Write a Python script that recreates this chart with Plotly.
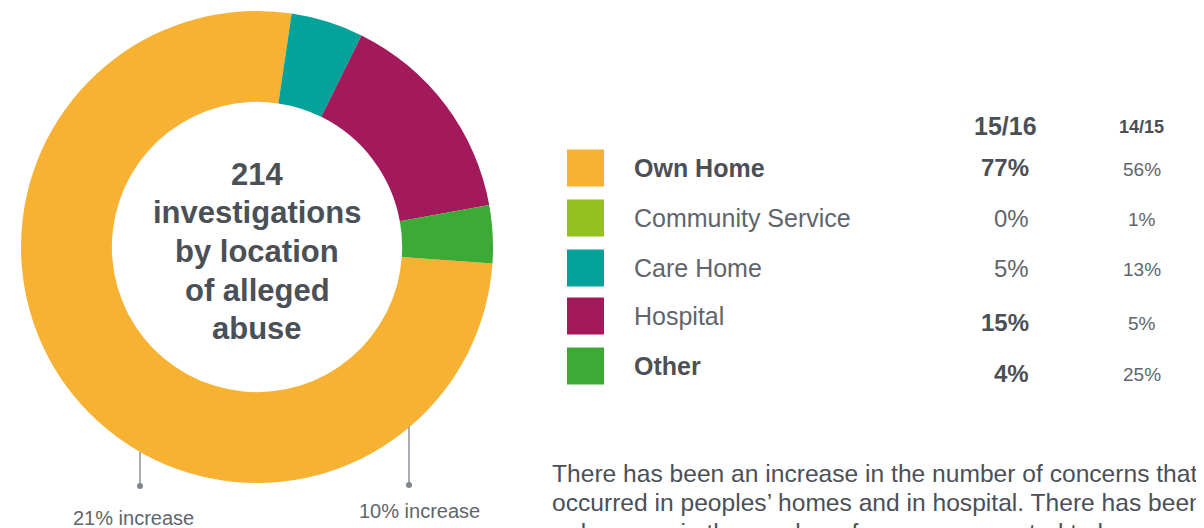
import plotly.graph_objects as go

W, H = 1204, 528
OFF = 8  # page body margin: the figure sits 8px right/down in the window

# ---- data ----
categories = ["Own Home", "Community Service", "Care Home", "Hospital", "Other"]
share_1516 = [77, 0, 5, 15, 4]
share_1415 = [56, 1, 13, 5, 25]
bold_1516 = [True, False, False, True, True]
bold_label = [True, False, False, False, True]
colors = ["#F7B133", "#95C11F", "#05A29A", "#A21A5B", "#3DAA35"]
center_lines = ["214", "investigations", "by location", "of alleged", "abuse"]
increase_labels = ["21% increase", "10% increase"]
paragraph = [
    "There has been an increase in the number of concerns that",
    "occurred in peoples\u2019 homes and in hospital. There has been",
    "a decrease in the number of concerns reported to have",
]

DARK = "#4B5057"
LIGHT = "#60656C"
FONT = "Liberation Sans, Arial, sans-serif"


def px(x):
    return (x - OFF) / W


def py(y):
    return 1 - (y - OFF) / H


fig = go.Figure()
fig.add_trace(go.Pie(
    labels=categories,
    values=share_1516,
    sort=False,
    direction="clockwise",
    rotation=94,
    hole=0.615,
    marker=dict(colors=colors, line=dict(width=0)),
    textinfo="none",
    hoverinfo="label+percent",
    showlegend=False,
    domain=dict(x=[px(21), px(493)], y=[py(483), py(11)]),
))

ann = []
shapes = []

# centre text
center_y = [174, 213, 251, 290, 328]
for t, yy in zip(center_lines, center_y):
    ann.append(dict(x=px(257), y=py(yy), xref="paper", yref="paper", text=f"<b>{t}</b>",
                    showarrow=False, xanchor="center", yanchor="middle",
                    font=dict(family=FONT, size=31, color=DARK)))

# table header
ann.append(dict(x=px(1039), y=py(126), xref="paper", yref="paper", text="<b>15/16</b>",
                showarrow=False, xanchor="right", yanchor="middle",
                font=dict(family=FONT, size=25, color=DARK)))
ann.append(dict(x=px(1141), y=py(127), xref="paper", yref="paper", text="<b>14/15</b>",
                showarrow=False, xanchor="center", yanchor="middle",
                font=dict(family=FONT, size=18, color=DARK)))

label_y = [168, 218, 268, 316, 366]
value_y = [168, 218, 268, 322, 373]
for i, cat in enumerate(categories):
    cy = label_y[i]
    shapes.append(dict(type="rect", xref="paper", yref="paper",
                       x0=px(567), x1=px(604), y0=py(cy - 18.5), y1=py(cy + 18.5),
                       fillcolor=colors[i], line=dict(width=0)))
    ann.append(dict(x=px(632), y=py(cy), xref="paper", yref="paper",
                    text=f"<b>{cat}</b>" if bold_label[i] else cat,
                    showarrow=False, xanchor="left", yanchor="middle",
                    font=dict(family=FONT, size=25, color=DARK if bold_label[i] else LIGHT)))
    v = f"{share_1516[i]}%"
    ann.append(dict(x=px(1031), y=py(value_y[i]), xref="paper", yref="paper",
                    text=f"<b>{v}</b>" if bold_1516[i] else v,
                    showarrow=False, xanchor="right", yanchor="middle",
                    font=dict(family=FONT, size=24, color=DARK if bold_1516[i] else LIGHT)))
    ann.append(dict(x=px(1142), y=py(value_y[i] + 1), xref="paper", yref="paper",
                    text=f"{share_1415[i]}%",
                    showarrow=False, xanchor="center", yanchor="middle",
                    font=dict(family=FONT, size=19, color=LIGHT)))

# leader lines with dots and increase labels
leaders = [(140, 452, 486), (409, 427, 485)]
label_pos = [(133, 518), (419, 511)]
for (lx, y0, y1), (tx, ty), txt in zip(leaders, label_pos, increase_labels):
    shapes.append(dict(type="line", xref="paper", yref="paper",
                       x0=px(lx), x1=px(lx), y0=py(y0), y1=py(y1),
                       line=dict(color="#8C9197", width=1.5)))
    shapes.append(dict(type="circle", xref="paper", yref="paper",
                       x0=px(lx - 3), x1=px(lx + 3), y0=py(y1 - 3), y1=py(y1 + 3),
                       fillcolor="#7F858B", line=dict(width=0)))
    ann.append(dict(x=px(tx), y=py(ty), xref="paper", yref="paper", text=txt,
                    showarrow=False, xanchor="center", yanchor="middle",
                    font=dict(family=FONT, size=20, color=LIGHT)))

# paragraph
para_y = [473, 502, 532]
for t, yy in zip(paragraph, para_y):
    ann.append(dict(x=px(550), y=py(yy), xref="paper", yref="paper", text=t,
                    showarrow=False, xanchor="left", yanchor="middle",
                    font=dict(family=FONT, size=24.6, color=DARK)))

fig.update_layout(
    width=W, height=H, autosize=False,
    margin=dict(l=0, r=0, t=0, b=0),
    paper_bgcolor="white", plot_bgcolor="white",
    annotations=ann, shapes=shapes,
)

fig.write_html("out.html")
